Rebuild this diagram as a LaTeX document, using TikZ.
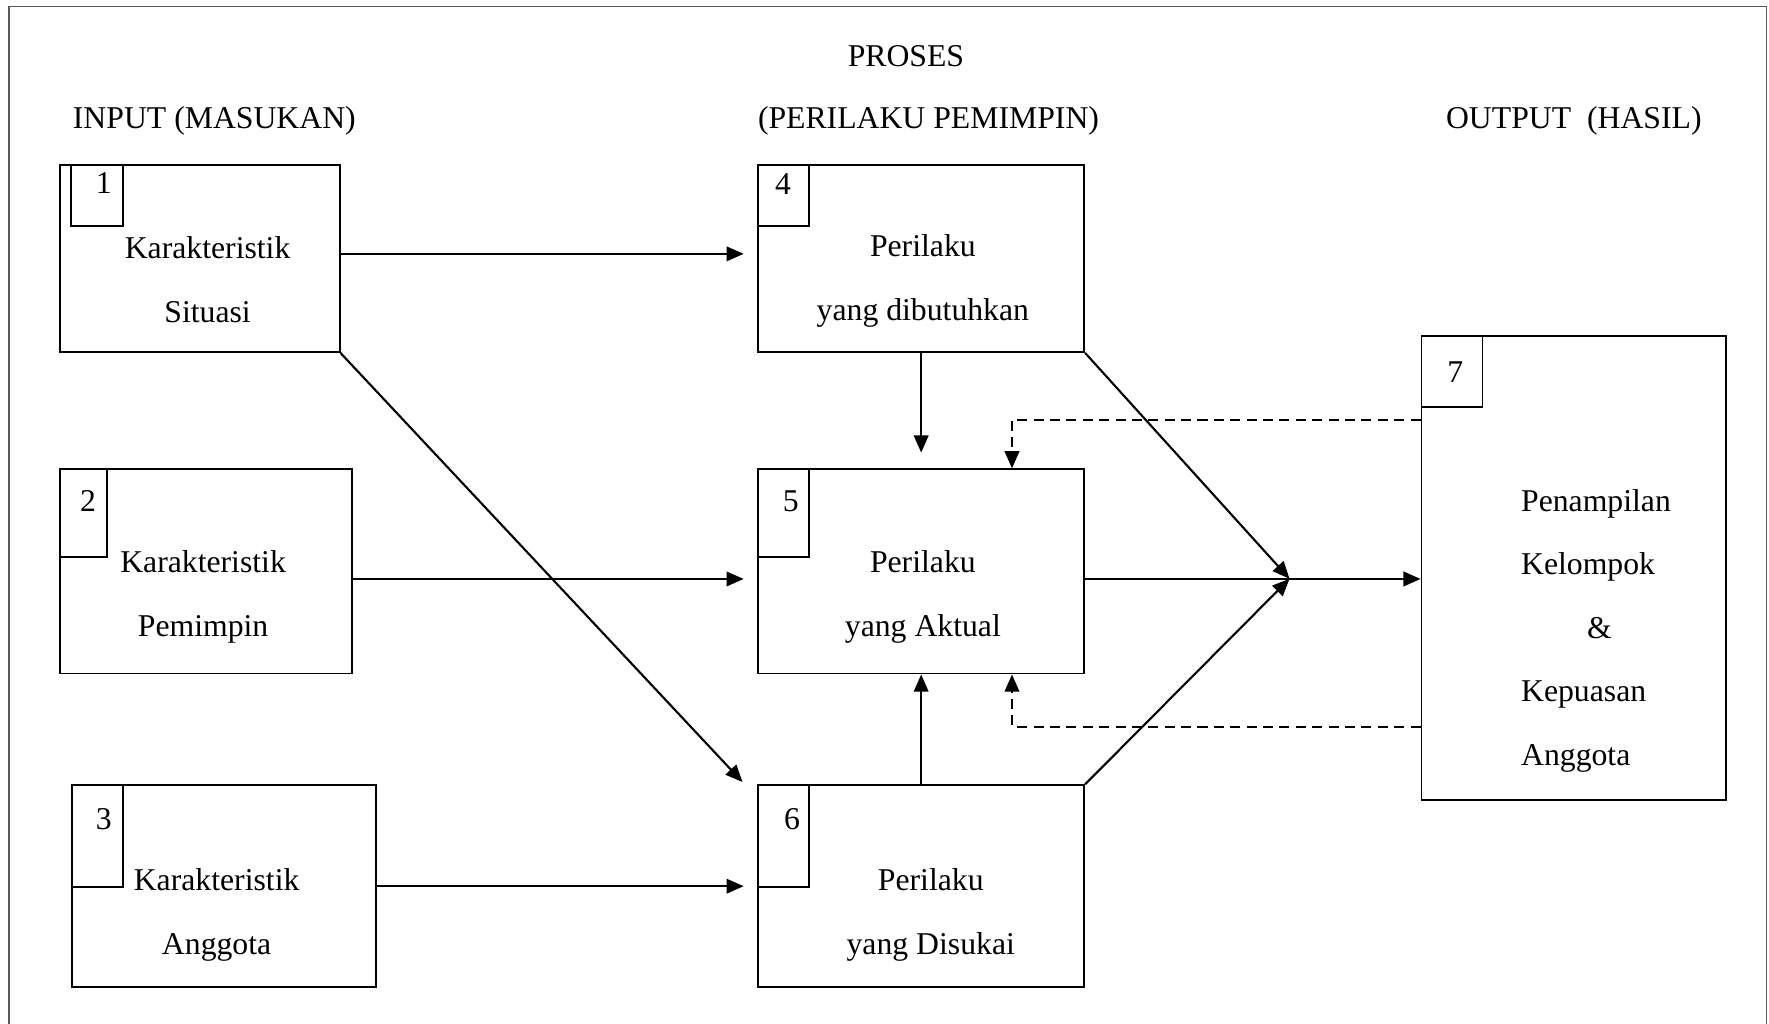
\documentclass[tikz,border=0pt]{standalone}
\usepackage{fontspec}
\setmainfont{Liberation Serif}
\usepackage{tikz}
\usetikzlibrary{arrows.meta}
\usetikzlibrary{positioning}
\usetikzlibrary{fit}
\tikzstyle{frame} = [draw=black!65, line width=0.5pt]
\tikzstyle{box} = [draw, line width=0.7pt, inner sep=0pt]
\tikzstyle{numbox} = [draw, line width=0.7pt, inner sep=0pt]
\tikzstyle{txt} = [align=center]
\tikzstyle{arr} = [-{Triangle[length=6.5pt,width=5.5pt]}, line width=0.8pt]
\tikzstyle{feedback} = [arr, dash pattern=on 3.8pt off 2.4pt]

\begin{document}
\begin{tikzpicture}[x=0.15mm, y=-0.15mm,
            every node/.style={font={\fontsize{12}{24}\selectfont}},
            ]
            \useasboundingbox (0,0) rectangle (1568,907);
            \draw[frame] (8,6) rectangle (1566,940);

            % headings
            \node (proses) at (803,50) {PROSES};
            \node (input) at (190,107) {INPUT (MASUKAN)};
            \node (pemimpin) at (823,107) {(PERILAKU PEMIMPIN)};
            \node (output) at (1395,107) {OUTPUT\ \ (HASIL)};

            % input
            \node[box, fit={(53,146) (301,312)}] (b1) {};
            \node[numbox, fit={(63,146) (109,200)}] (n1) {};
            \node (d1) at (92,162) {1};
            \node[txt] (t1) at (184,248) {Karakteristik\\Situasi};

            \node[box, fit={(53,416) (312,597)}] (b2) {};
            \node[numbox, fit={(53,416) (95,494)}] (n2) {};
            \node (d2) at (78,444) {2};
            \node[txt] (t2) at (180,529) {Karakteristik\\Pemimpin};

            \node[box, fit={(64,696) (333,875)}] (b3) {};
            \node[numbox, fit={(64,696) (109,786)}] (n3) {};
            \node (d3) at (92,726) {3};
            \node[txt] (t3) at (192,811) {Karakteristik\\Anggota};

            % proses
            \node[box, fit={(672,146) (961,312)}] (b4) {};
            \node[numbox, fit={(672,146) (717,200)}] (n4) {};
            \node (d4) at (694,163) {4};
            \node[txt] (t4) at (818,249) {Perilaku\\yang dibutuhkan};

            \node[box, fit={(672,416) (961,597)}] (b5) {};
            \node[numbox, fit={(672,416) (717,494)}] (n5) {};
            \node (d5) at (701,444) {5};
            \node[txt] (t5) at (818,529) {Perilaku\\yang Aktual};

            \node[box, fit={(672,696) (961,875)}] (b6) {};
            \node[numbox, fit={(672,696) (717,786)}] (n6) {};
            \node (d6) at (702,726) {6};
            \node[txt] (t6) at (825,811) {Perilaku\\yang Disukai};

            % output
            \node[box, fit={(1260,298) (1530,709)}] (b7) {};
            \node[numbox, fit={(1260,298) (1314,361)}] (n7) {};
            \node (d7) at (1290,330) {7};
            \node[align=left, anchor=west] (t7) at (1340,559)
                {Penampilan\\Kelompok\\\hspace*{25pt}\&\\Kepuasan\\Anggota};

            \coordinate (j) at (1143,513);
            \coordinate (f1) at (897,372);
            \coordinate (f2) at (897,644);

            \draw[arr, shorten >=1.8mm] ([yshift=0.6mm]b1.east) -- ([yshift=0.6mm]b1.east -| b4.west);
            \draw[arr] (b1.south east) -- ([shift={(-13,-2)}]b6.north west);
            \draw[arr, shorten >=1.8mm] ([yshift=-1mm]b2.east) -- ([yshift=-1mm]b2.east -| b5.west);
            \draw[arr, shorten >=1.8mm] (b3.east) -- (b6.west);
            \draw[arr, shorten >=2.1mm] (b4.south) -- (b5.north);
            \draw[arr] (b6.north) -- (b5.south);
            \draw[arr] (b4.south east) -- (j);
            \draw[arr] (b6.north east) -- (j);
            \draw[arr] ([yshift=-1mm]b5.east) -- ([yshift=-1mm]b5.east -| b7.west);
            \draw[feedback] (f1 -| b7.west) -- (f1) -- (f1 |- b5.north);
            \draw[feedback] (f2 -| b7.west) -- (f2) -- (f2 |- b5.south);
        \end{tikzpicture}
\end{document}
